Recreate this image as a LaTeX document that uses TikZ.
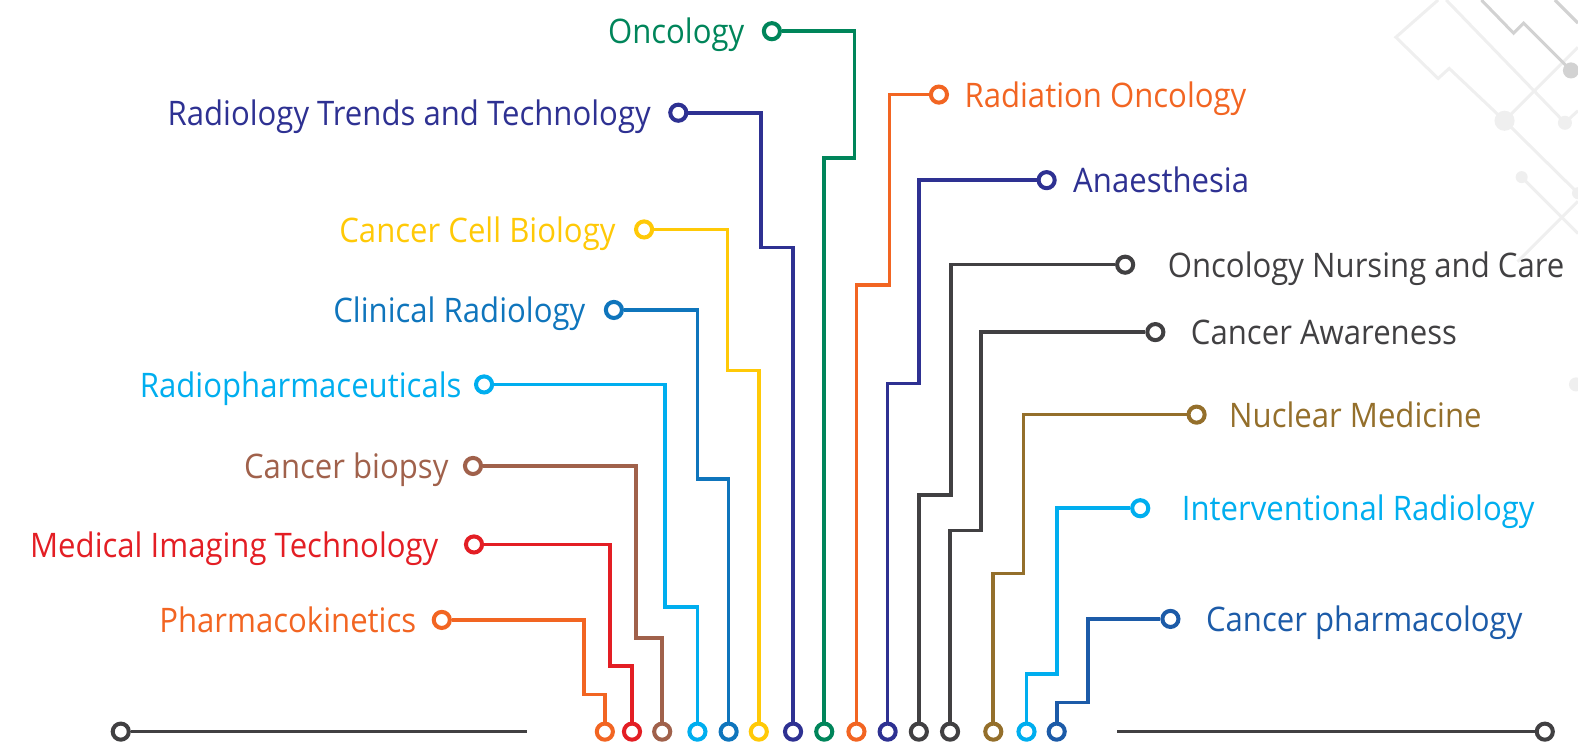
\documentclass[tikz,border=0pt]{standalone}
\usepackage{fontspec}
\setmainfont[FakeStretch=0.92]{Open Sans}
\definecolor{cgreen}{HTML}{00855A}
\definecolor{cnavy}{HTML}{2E3192}
\definecolor{cyellow}{HTML}{FFC907}
\definecolor{cblue}{HTML}{0F75BC}
\definecolor{ccyan}{HTML}{00AEEF}
\definecolor{cbrown}{HTML}{A0614B}
\definecolor{cred}{HTML}{E31E24}
\definecolor{corange}{HTML}{F26522}
\definecolor{cgray}{HTML}{414042}
\definecolor{colive}{HTML}{946F2B}
\definecolor{cpblue}{HTML}{1C5BA8}
\definecolor{declight}{HTML}{EFEFEF}
\definecolor{decdark}{HTML}{D2D2D2}
\begin{document}
\begin{tikzpicture}[x=0.5pt,y=-0.5pt,
  conn/.style={line width=1.8pt},
  dotc/.style={circle,draw,fill=white,line width=2pt,inner sep=0pt,minimum size=8pt},
  lab/.style={font=\fontsize{16.8}{19}\selectfont,inner sep=0pt},
  decl/.style={draw=declight,line width=1.5pt},
  decd/.style={draw=decdark,line width=1.5pt}]
\useasboundingbox (0,0) rectangle (1568,738);
% background decoration
\draw[decl] (1429,0) -- (1387,37) -- (1429,78) -- (1440,68) -- (1495,120) -- (1568,192);
\draw[decl] (1437,0) -- (1555,122) -- (1568,110);
\draw[decl] (1495,120) -- (1568,47);
\draw[decl] (1512,176) -- (1568,232);
\draw[decl] (1568,200) -- (1508,260);
\fill[declight] (1495,120) circle (10) (1555,122) circle (7) (1512,176) circle (6) (1568,192) circle (6) (1566,382) circle (7);
\draw[decd] (1472,0) -- (1504,33) -- (1514,23) -- (1561,70);
\draw[decd] (1545,0) -- (1568,23);
\fill[decdark] (1561,70) circle (8);
% left items
\foreach \n/\c/\t/\tx/\cx/\cy/\xa/\ym/\bx in {
  onc/cgreen/Oncology/740/767/31/849/157/819,
  rtt/cnavy/Radiology Trends and Technology/647/674/112/756/246/788,
  ccb/cyellow/Cancer Cell Biology/612/640/228/723/368/754,
  crd/cblue/Clinical Radiology/582/610/308/693/476/724,
  rph/ccyan/Radiopharmaceuticals/459/481/382/661/603/693,
  cbi/cbrown/Cancer biopsy/446/470/463/632/634/658,
  mit/cred/Medical Imaging Technology/436/471/541/606/662/628,
  pkn/corange/Pharmacokinetics/414/439/616/580/690/601}{
  \node[dotc,draw=\c] (\n) at (\cx,\cy) {};
  \node[lab,text=\c,anchor=base east] (\n t) at (\tx,\cy+12.5) {\t};
  \node[dotc,draw=\c] (\n b) at (\bx,727) {};
  \draw[conn,\c] (\n) -| (\xa,\ym) -| (\n b);
}
% right items
\foreach \n/\c/\t/\tx/\cx/\cy/\xa/\ym/\bx in {
  ron/corange/Radiation Oncology/958/933/94/884/283/851,
  ana/cnavy/Anaesthesia/1066/1040/179/913/381/882,
  onr/cgray/Oncology Nursing and Care/1160/1118/263/945/492/913,
  caw/cgray/Cancer Awareness/1183/1148/330/975/527/944,
  num/colive/Nuclear Medicine/1221/1189/412/1017/570/987,
  inr/ccyan/Interventional Radiology/1174/1133/505/1050/670/1020,
  cph/cpblue/Cancer pharmacology/1198/1163/615/1081/698/1050}{
  \node[dotc,draw=\c] (\n) at (\cx,\cy) {};
  \node[lab,text=\c,anchor=base west] (\n t) at (\tx,\cy+12.5) {\t};
  \node[dotc,draw=\c] (\n b) at (\bx,727) {};
  \draw[conn,\c] (\n) -| (\xa,\ym) -| (\n b);
}
% baseline
\node[dotc,draw=cgray] (bl) at (120,727) {};
\coordinate (ble) at (524,727);
\node[dotc,draw=cgray] (br) at (1535,727) {};
\coordinate (brs) at (1110,727);
\draw[conn,cgray] (bl) -- (ble);
\draw[conn,cgray] (brs) -- (br);
\end{tikzpicture}
\end{document}
